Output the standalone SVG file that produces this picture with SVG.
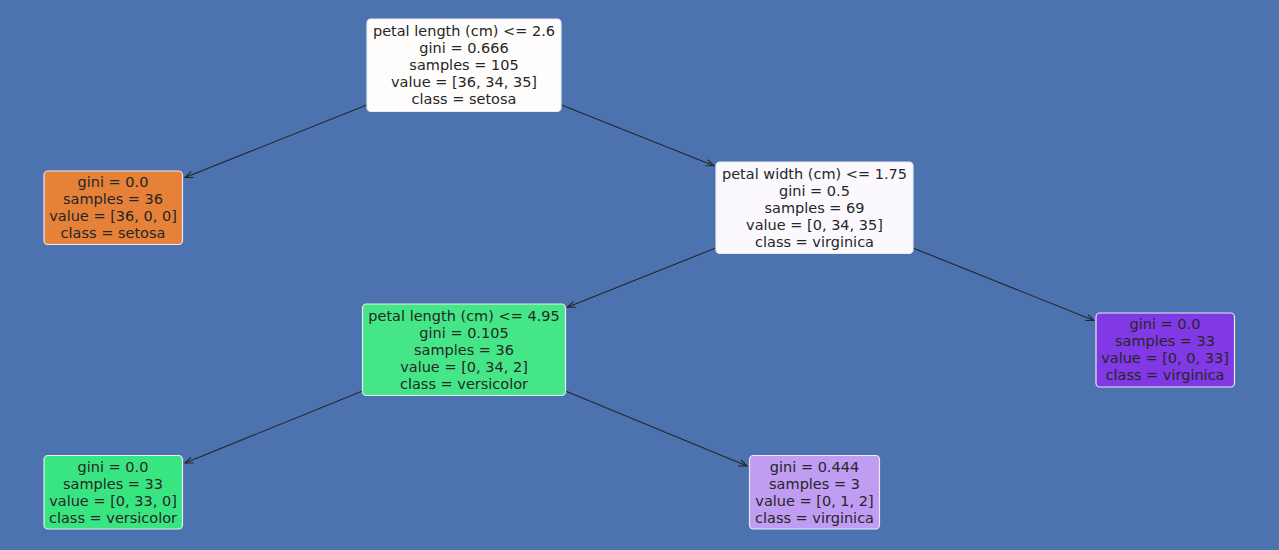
<svg xmlns="http://www.w3.org/2000/svg" width="1279" height="550" viewBox="0 0 1279 550">
<style>
.bg{fill:#4c72b0}
.box{stroke:#eaeaf2;stroke-width:1.2}
text{font-family:"DejaVu Sans","Liberation Sans",sans-serif;font-size:14.5px;fill:#262626;text-anchor:middle;dominant-baseline:central}
.edge{stroke:#262626;stroke-width:1.1;fill:none;marker-end:url(#arr)}
</style>
<defs>
<marker id="arr" markerUnits="userSpaceOnUse" markerWidth="12" markerHeight="10" refX="0" refY="0" viewBox="-10 -5 12 10" orient="auto" overflow="visible">
<path d="M-8,-3.2 L0,0 L-8,3.2" fill="none" stroke="#262626" stroke-width="1.1"/>
</marker>
</defs>
<rect class="bg" x="0" y="0" width="1279" height="550"/>
<g id="edges">
<line class="edge" x1="366.7" y1="105" x2="185" y2="177.5"/>
<line class="edge" x1="561.5" y1="105" x2="714" y2="165.7"/>
<line class="edge" x1="715.7" y1="248" x2="567.3" y2="307.3"/>
<line class="edge" x1="913" y1="248" x2="1094" y2="320.5"/>
<line class="edge" x1="362.5" y1="391" x2="185" y2="463"/>
<line class="edge" x1="565.5" y1="391" x2="747" y2="466"/>
</g>
<g id="node0">
<rect class="box" x="367" y="19" width="194" height="92.5" rx="4" fill="#fefdfc"/>
<text x="464" y="31">petal length (cm) &lt;= 2.6</text>
<text x="464" y="48">gini = 0.666</text>
<text x="464" y="65">samples = 105</text>
<text x="464" y="82">value = [36, 34, 35]</text>
<text x="464" y="99">class = setosa</text>
</g>
<g id="node1">
<rect class="box" x="44" y="171" width="138.5" height="73.5" rx="4" fill="#e58139"/>
<text x="113" y="182">gini = 0.0</text>
<text x="113" y="199">samples = 36</text>
<text x="113" y="216">value = [36, 0, 0]</text>
<text x="113" y="233">class = setosa</text>
</g>
<g id="node2">
<rect class="box" x="716" y="162" width="197" height="91.5" rx="4" fill="#fbf9fe"/>
<text x="814.5" y="173.5">petal width (cm) &lt;= 1.75</text>
<text x="814.5" y="190.5">gini = 0.5</text>
<text x="814.5" y="207.5">samples = 69</text>
<text x="814.5" y="224.5">value = [0, 34, 35]</text>
<text x="814.5" y="241.5">class = virginica</text>
</g>
<g id="node3">
<rect class="box" x="362.5" y="304" width="203" height="91.5" rx="4" fill="#45e688"/>
<text x="464" y="315.5">petal length (cm) &lt;= 4.95</text>
<text x="464" y="332.5">gini = 0.105</text>
<text x="464" y="349.5">samples = 36</text>
<text x="464" y="366.5">value = [0, 34, 2]</text>
<text x="464" y="383.5">class = versicolor</text>
</g>
<g id="node4">
<rect class="box" x="44" y="455.5" width="138.5" height="73.5" rx="4" fill="#39e581"/>
<text x="113" y="466.5">gini = 0.0</text>
<text x="113" y="483.5">samples = 33</text>
<text x="113" y="500.5">value = [0, 33, 0]</text>
<text x="113" y="517.5">class = versicolor</text>
</g>
<g id="node5">
<rect class="box" x="749.5" y="455.5" width="130" height="73.5" rx="4" fill="#c09cf2"/>
<text x="814.5" y="466.5">gini = 0.444</text>
<text x="814.5" y="483.5">samples = 3</text>
<text x="814.5" y="500.5">value = [0, 1, 2]</text>
<text x="814.5" y="517.5">class = virginica</text>
</g>
<g id="node6">
<rect class="box" x="1096" y="313" width="138.5" height="74" rx="4" fill="#8139e5"/>
<text x="1165" y="324">gini = 0.0</text>
<text x="1165" y="341">samples = 33</text>
<text x="1165" y="358">value = [0, 0, 33]</text>
<text x="1165" y="375">class = virginica</text>
</g>
</svg>
